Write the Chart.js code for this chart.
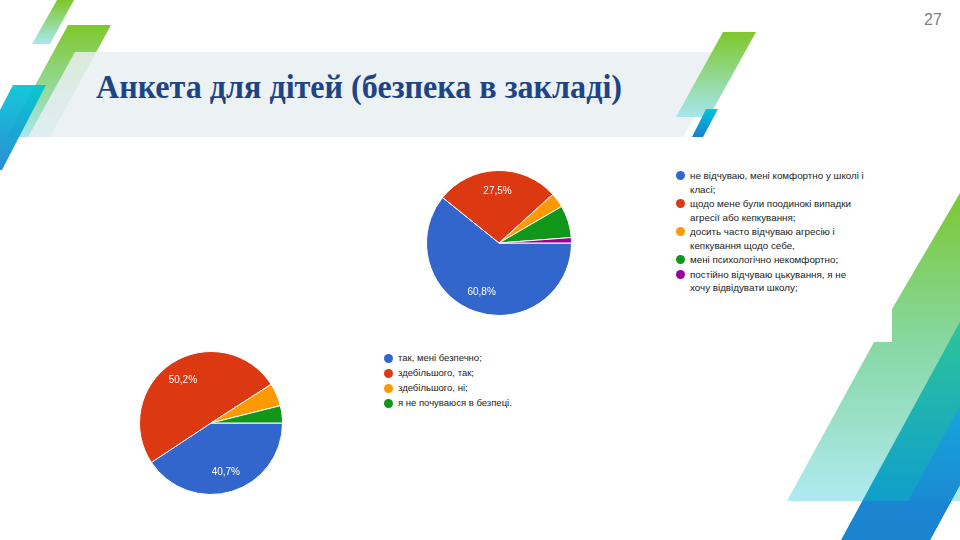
<!DOCTYPE html>
<html>
<head>
<meta charset="utf-8">
<script src="https://cdn.jsdelivr.net/npm/chart.js@4.4.0/dist/chart.umd.min.js"></script>
<style>
  html, body { margin: 0; padding: 0; background: #fff; }
  #slide { position: relative; width: 960px; height: 540px; overflow: hidden; background: #fff; }
  #deco { position: absolute; left: 0; top: 0; }
  #title { position: absolute; left: 96px; top: 69px; margin: 0; white-space: nowrap;
           font: bold 33px "Liberation Serif", serif; color: #1d4585;
           transform-origin: 0 0; }
  #pageNum { position: absolute; left: 924px; top: 11px; font: 16px "Liberation Sans", Arial, sans-serif; color: #808080; }
  .box { position: absolute; }
  .legend { position: absolute; margin: 0; padding: 0; list-style: none;
            font-family: "Liberation Sans", Arial, sans-serif; color: #222; white-space: pre; }
  .legend li { position: relative; padding-left: 14px; }
  .legend .dot { position: absolute; left: 0; width: 9px; height: 9px; border-radius: 50%; }
  #legend1 { font-size: 9.8px; }
  #legend1 li { line-height: 13.5px; margin-bottom: 1px; }
  #legend1 .dot { top: 2.25px; }
  #legend2 { font-size: 9.5px; }
  #legend2 li { line-height: 14px; margin-bottom: 1px; }
  #legend2 .dot { top: 2.5px; }
</style>
</head>
<body>
<div id="slide">
  <svg id="deco" width="960" height="540" xmlns="http://www.w3.org/2000/svg">
    <defs>
      <linearGradient id="gL1" gradientUnits="userSpaceOnUse" x1="0" y1="0" x2="0" y2="44">
        <stop offset="0" stop-color="#7ec82a"/><stop offset="1" stop-color="#a8e8f0"/>
      </linearGradient>
      <linearGradient id="gL2" gradientUnits="userSpaceOnUse" x1="0" y1="25" x2="0" y2="137">
        <stop offset="0" stop-color="#7ec82a"/><stop offset="1" stop-color="#a6e6ef"/>
      </linearGradient>
      <linearGradient id="gL3" gradientUnits="userSpaceOnUse" x1="0" y1="85" x2="0" y2="170">
        <stop offset="0" stop-color="#00c4d6"/><stop offset="1" stop-color="#1a84d0"/>
      </linearGradient>
      <linearGradient id="gR1" gradientUnits="userSpaceOnUse" x1="0" y1="32" x2="0" y2="117">
        <stop offset="0" stop-color="#7ec82a"/><stop offset="1" stop-color="#a6e6ef"/>
      </linearGradient>
      <linearGradient id="gR2" gradientUnits="userSpaceOnUse" x1="0" y1="109" x2="0" y2="137">
        <stop offset="0" stop-color="#00c4d8"/><stop offset="1" stop-color="#1a80d0"/>
      </linearGradient>
      <linearGradient id="gB" gradientUnits="userSpaceOnUse" x1="0" y1="193" x2="0" y2="501">
        <stop offset="0" stop-color="#7cc832"/><stop offset="0.48" stop-color="#87d7a2"/><stop offset="1" stop-color="#aeeaf0"/>
      </linearGradient>
      <linearGradient id="gC" gradientUnits="userSpaceOnUse" x1="0" y1="322" x2="0" y2="540">
        <stop offset="0" stop-color="#2cc49a"/><stop offset="0.82" stop-color="#119ecb"/>
        <stop offset="0.82" stop-color="#1a85d0"/><stop offset="1" stop-color="#1a84d0"/>
      </linearGradient>
      <linearGradient id="gD" gradientUnits="userSpaceOnUse" x1="0" y1="403" x2="0" y2="540">
        <stop offset="0" stop-color="#17a6dc"/><stop offset="0.715" stop-color="#1a8bd2"/>
        <stop offset="0.715" stop-color="#1a85d0"/><stop offset="1" stop-color="#1a84d0"/>
      </linearGradient>
    </defs>
    <!-- left top group -->
    <polygon points="57,0 74,0 50,44 32,44" fill="url(#gL1)"/>
    <polygon points="68,25 111,25 50,137 7,137" fill="url(#gL2)"/>
    <!-- title band -->
    <polygon points="75,52 730,52 683,137 28,137" fill="#e9eff2" fill-opacity="0.85"/>
    <polygon points="13,85 46,85 2,170 -31,170" fill="url(#gL3)" fill-opacity="0.92"/>
    <!-- right top group -->
    <polygon points="723,32 756,32 709,117 676,117" fill="url(#gR1)"/>
    <polygon points="706,109 718,109 703,137 692,137" fill="url(#gR2)"/>
    <!-- right bottom group -->
    <polygon points="960,193 960,342 892,342 892,309" fill="url(#gB)"/>
    <polygon points="874,342 990,342 990,501 787,501" fill="url(#gB)"/>
    <polygon points="841,540 930,540 1050,320 961,320" fill="url(#gC)"/>
    <polygon points="887,540 930,540 1010,393 967,393" fill="url(#gD)"/>
  </svg>

  <h1 id="title">Анкета для дітей (безпека в закладі)</h1>
  <div id="pageNum">27</div>

  <div class="box" style="left:425px; top:169px; width:148px; height:148px;"><canvas id="pie1" width="148" height="148"></canvas></div>
  <ul id="legend1" class="legend" style="left:676px; top:169px;"></ul>

  <div class="box" style="left:138px; top:350px; width:146px; height:146px;"><canvas id="pie2" width="146" height="146"></canvas></div>
  <ul id="legend2" class="legend" style="left:384px; top:351px;"></ul>
</div>

<script>
// palette (Google Forms)
const palette = ['#3366cc', '#dc3912', '#ff9900', '#109618', '#990099'];

// chart 1: do you feel aggression / bullying
const pie1Labels = [
  'не відчуваю, мені комфортно у школі і\nкласі;',
  'щодо мене були поодинокі випадки\nагресії або кепкування;',
  'досить часто відчуваю агресію і\nкепкування щодо себе,',
  'мені психологічно некомфортно;',
  'постійно відчуваю цькування, я не\nхочу відвідувати школу;'
];
const pie1Values = [60.8, 27.5, 3.3, 7.2, 1.2];

// chart 2: do you feel safe
const pie2Labels = [
  'так, мені безпечно;',
  'здебільшого, так;',
  'здебільшого, ні;',
  'я не почуваюся в безпеці.'
];
const pie2Values = [40.7, 50.2, 5.2, 3.9];

// percent labels inside the bigger slices
const sliceLabels = {
  id: 'sliceLabels',
  afterDatasetsDraw(chart) {
    const ctx = chart.ctx;
    const vals = chart.data.datasets[0].data;
    const total = vals.reduce((a, b) => a + b, 0);
    ctx.save();
    ctx.font = '10px "Liberation Sans", Arial, sans-serif';
    ctx.fillStyle = '#fff';
    ctx.textAlign = 'center';
    ctx.textBaseline = 'middle';
    chart.getDatasetMeta(0).data.forEach((arc, i) => {
      const pct = vals[i] / total * 100;
      if (pct < 10) return;
      const p = arc.getProps(['x', 'y', 'startAngle', 'endAngle', 'outerRadius'], true);
      const mid = (p.startAngle + p.endAngle) / 2;
      const r = p.outerRadius * 0.72;
      const txt = pct.toFixed(1).replace('.', ',') + '%';
      ctx.fillText(txt, p.x + Math.cos(mid) * r, p.y + Math.sin(mid) * r);
    });
    ctx.restore();
  }
};

function makePie(id, labels, values) {
  return new Chart(document.getElementById(id), {
    type: 'pie',
    data: {
      labels: labels,
      datasets: [{
        data: values,
        backgroundColor: palette.slice(0, values.length),
        borderColor: '#fff',
        borderWidth: 1
      }]
    },
    options: {
      responsive: false,
      animation: false,
      rotation: 90,
      layout: { padding: 1 },
      plugins: {
        legend: { display: false },
        tooltip: { enabled: false }
      }
    },
    plugins: [sliceLabels]
  });
}

function makeLegend(id, labels) {
  const ul = document.getElementById(id);
  labels.forEach((txt, i) => {
    const li = document.createElement('li');
    const dot = document.createElement('span');
    dot.className = 'dot';
    dot.style.background = palette[i];
    li.appendChild(dot);
    li.appendChild(document.createTextNode(txt));
    ul.appendChild(li);
  });
}

makePie('pie1', pie1Labels, pie1Values);
makePie('pie2', pie2Labels, pie2Values);
makeLegend('legend1', pie1Labels);
makeLegend('legend2', pie2Labels);

// squeeze title to the width it has on the slide
const title = document.getElementById('title');
const w = title.getBoundingClientRect().width;
title.style.transform = 'scaleX(' + (526 / w) + ')';
</script>
</body>
</html>
